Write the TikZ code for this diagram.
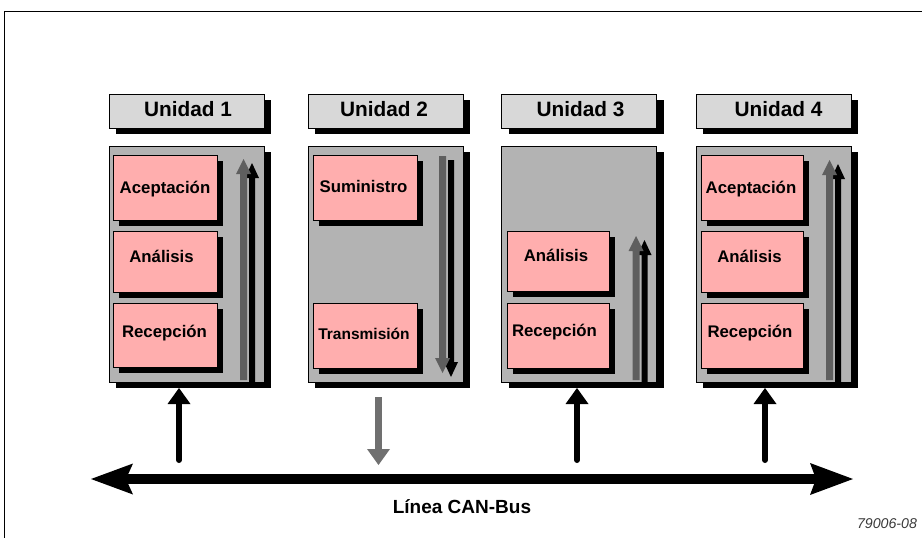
\documentclass[tikz,border=0pt]{standalone}
\usepackage{fontspec}
\setmainfont{Liberation Sans}
\usetikzlibrary{shadows}
\definecolor{hdrgray}{HTML}{D8D8D8}
\definecolor{pangray}{HTML}{B3B3B3}
\definecolor{pinkbox}{HTML}{FFAEAE}
\definecolor{arrgray}{HTML}{5F5F5F}
\definecolor{busgray}{HTML}{707070}
\definecolor{reftext}{HTML}{3A3A3A}
\begin{document}
\begin{tikzpicture}[x=1pt,y=-1pt,
  hdr/.style={draw=black, line width=1pt, fill=hdrgray, inner sep=0pt,
    minimum width=155pt, minimum height=34pt,
    general shadow={fill=black, shadow xshift=7pt, shadow yshift=-6pt}},
  panel/.style={draw=black, line width=1pt, fill=pangray, inner sep=0pt,
    minimum width=155pt, minimum height=236pt,
    general shadow={fill=black, shadow xshift=7pt, shadow yshift=-6pt}},
  pbox/.style={draw=black, line width=1pt, fill=pinkbox, inner sep=0pt,
    minimum width=104pt,
    general shadow={fill=black, shadow xshift=6pt, shadow yshift=-6pt}},
  hdrtext/.style={font=\fontsize{20.8}{24}\selectfont\bfseries, anchor=base, inner sep=0pt},
  boxtext/.style={font=\fontsize{16.8}{20}\selectfont\bfseries, anchor=base, inner sep=0pt},
  busline/.style={line width=6pt, line cap=round, draw=black},
]
\useasboundingbox (0,0) rectangle (922,538);
% frame
\draw[line width=0.8pt] (4,538) -- (4,11) -- (922,11);

% headers
\node[hdr] (h1) at (186.5,111) {};
\node[hdr] (h2) at (385.5,111) {};
\node[hdr] (h3) at (579,111) {};
\node[hdr] (h4) at (773.5,111) {};
\node[hdrtext] (h1t) at (188,116.7) {Unidad 1};
\node[hdrtext] (h2t) at (384,116.7) {Unidad 2};
\node[hdrtext] (h3t) at (580.5,116.7) {Unidad 3};
\node[hdrtext] (h4t) at (778.5,116.7) {Unidad 4};

% panels
\node[panel] (p1) at (186.5,264) {};
\node[panel] (p2) at (385.5,264) {};
\node[panel] (p3) at (579,264) {};
\node[panel] (p4) at (773.5,264) {};

% panel arrows (shadow first, then gray)
% unit 1 up
\fill[black] (249,382) -- (249,178) -- (245,178) -- (252,163) -- (259,178) -- (255,178) -- (255,382) -- cycle;
\fill[arrgray] (240,380) -- (240,174) -- (236,174) -- (243.5,159) -- (251,174) -- (247,174) -- (247,380) -- cycle;
% unit 2 down
\fill[black] (448,160) -- (448,362) -- (444,362) -- (451,377) -- (458,362) -- (454,362) -- (454,160) -- cycle;
\fill[arrgray] (439,156) -- (439,358) -- (435,358) -- (442.5,373) -- (450,358) -- (446,358) -- (446,156) -- cycle;
% unit 3 up
\fill[black] (641.5,382) -- (641.5,255) -- (637.5,255) -- (644.5,240) -- (651.5,255) -- (647.5,255) -- (647.5,382) -- cycle;
\fill[arrgray] (632.5,380) -- (632.5,251) -- (628.5,251) -- (636,236) -- (643.5,251) -- (639.5,251) -- (639.5,380) -- cycle;
% unit 4 up
\fill[black] (835,382) -- (835,179) -- (831,179) -- (838,164) -- (845,179) -- (841,179) -- (841,382) -- cycle;
\fill[arrgray] (826,380) -- (826,175) -- (822,175) -- (829.5,160) -- (837,175) -- (833,175) -- (833,380) -- cycle;

% pink boxes
\node[pbox, minimum height=65pt] (a1) at (165,187.5) {};
\node[pbox, minimum height=61pt] (n1) at (165,261.5) {};
\node[pbox, minimum height=64pt] (r1) at (165,335) {};
\node[pbox, minimum height=65pt] (s2) at (365,187.5) {};
\node[pbox, minimum height=65pt] (t2) at (365,335.5) {};
\node[pbox, minimum width=102pt, minimum height=60pt] (n3) at (558,261) {};
\node[pbox, minimum width=102pt, minimum height=65pt] (r3) at (558,335.5) {};
\node[pbox, minimum width=102pt, minimum height=65pt] (a4) at (752,187.5) {};
\node[pbox, minimum width=102pt, minimum height=61pt] (n4) at (752,261.5) {};
\node[pbox, minimum width=102pt, minimum height=65pt] (r4) at (752,335.5) {};

\node[boxtext] (a1t) at (165,193.3) {Aceptación};
\node[boxtext] (n1t) at (161.5,262) {Análisis};
\node[boxtext] (r1t) at (164.5,337.3) {Recepción};
\node[boxtext] (s2t) at (363.5,192.7) {Suministro};
\node[boxtext, font=\fontsize{15.5}{18}\selectfont\bfseries] (t2t) at (364,339) {Transmisión};
\node[boxtext] (n3t) at (556,261.7) {Análisis};
\node[boxtext] (r3t) at (554.5,336.7) {Recepción};
\node[boxtext] (a4t) at (751,193.3) {Aceptación};
\node[boxtext] (n4t) at (749.5,262) {Análisis};
\node[boxtext] (r4t) at (750,337) {Recepción};

% bus
\coordinate (busL) at (91,479);
\coordinate (busR) at (853,479);
\fill[black] (126,474.3) rectangle (816,483.7);
\fill[black] (busL) -- (133,463.5) -- (126,479) -- (133,494.5) -- cycle;
\fill[black] (busR) -- (810,463) -- (816,479) -- (810,495) -- cycle;
\node[font=\fontsize{19}{22}\selectfont\bfseries, anchor=base, inner sep=0pt] (buslabel) at (462,513.3) {Línea CAN-Bus};
\node[font=\fontsize{14.2}{17}\selectfont\itshape, text=reftext, anchor=base, inner sep=0pt] (ref) at (887,528.3) {79006-08};

% bus connections
\coordinate (c1) at (179,460);
\coordinate (c1h) at (179,403);
\draw[busline] (c1) -- (c1h);
\fill[black] (167.5,404) -- (179,388) -- (190.5,404) -- cycle;
\coordinate (c3) at (577,460);
\coordinate (c3h) at (577,403);
\draw[busline] (c3) -- (c3h);
\fill[black] (565.5,404) -- (577,388) -- (588.5,404) -- cycle;
\coordinate (c4) at (765,460);
\coordinate (c4h) at (765,403);
\draw[busline] (c4) -- (c4h);
\fill[black] (753.5,404) -- (765,388) -- (776.5,404) -- cycle;
\coordinate (c2) at (378.5,397);
\coordinate (c2h) at (378.5,450);
\draw[line width=7pt, draw=busgray] (c2) -- (c2h);
\fill[busgray] (367,449) -- (378.5,465) -- (390,449) -- cycle;
\end{tikzpicture}
\end{document}
